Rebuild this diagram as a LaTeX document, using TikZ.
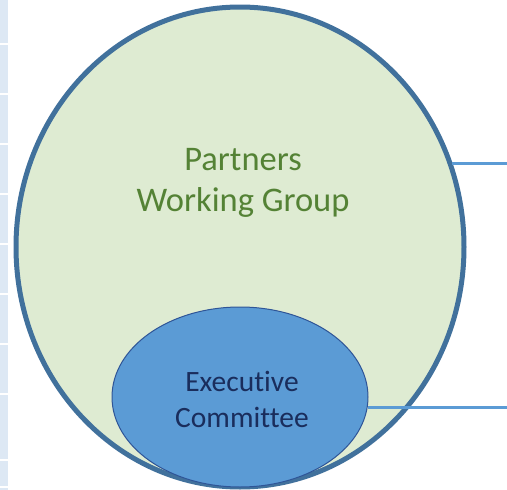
\documentclass[tikz,border=0pt]{standalone}
\usepackage{fontspec}
\setmainfont[Ligatures=CommonOff]{Carlito}
\definecolor{bigfill}{HTML}{DEEBD2}
\definecolor{bigborder}{HTML}{41719C}
\definecolor{smallfill}{HTML}{5B9BD5}
\definecolor{smallborder}{HTML}{2F5597}
\definecolor{linkcol}{HTML}{5B9BD5}
\definecolor{greentext}{HTML}{548235}
\definecolor{navytext}{HTML}{1A2D5C}
\definecolor{stripcol}{HTML}{DDE8F4}
\begin{document}
\begin{tikzpicture}[x=1pt,y=-1pt,
  link/.style={draw=linkcol, line width=3pt},
  strip/.style={fill=stripcol, draw=none}]
\useasboundingbox (0,0) rectangle (507,490);
\fill[white] (0,0) rectangle (507,490);
% left strip cells
\foreach \a/\b in {0/43,45/93,95/143,145/193,195/243,245/293,295/343,345/393,395/459,461/486,488/490}
  \path[strip] (0,\a) rectangle (8,\b);
\begin{scope}
\clip (0,0) rectangle (507,490);
\draw[draw=bigborder, fill=bigfill, line width=5pt] (240,247) ellipse [x radius=224, y radius=240];
\coordinate (bigR) at (452,163);
\draw[draw=smallborder, fill=smallfill, line width=1pt] (240,397) ellipse [x radius=128, y radius=90];
\coordinate (smallR) at (368,407);
\end{scope}
\node[text=greentext, font=\fontsize{34.5}{41}\selectfont, align=center] (pwg) at (243,183) {Partners\\Working Group};
\node[text=navytext, font=\fontsize{29.5}{36}\selectfont, align=center] (ec) at (242,399) {Executive\\Committee};
\coordinate (endA) at (507,163);
\coordinate (endB) at (507,407);
\draw[link] (bigR) -- (endA);
\draw[link] (smallR) -- (endB);
\end{tikzpicture}
\end{document}
